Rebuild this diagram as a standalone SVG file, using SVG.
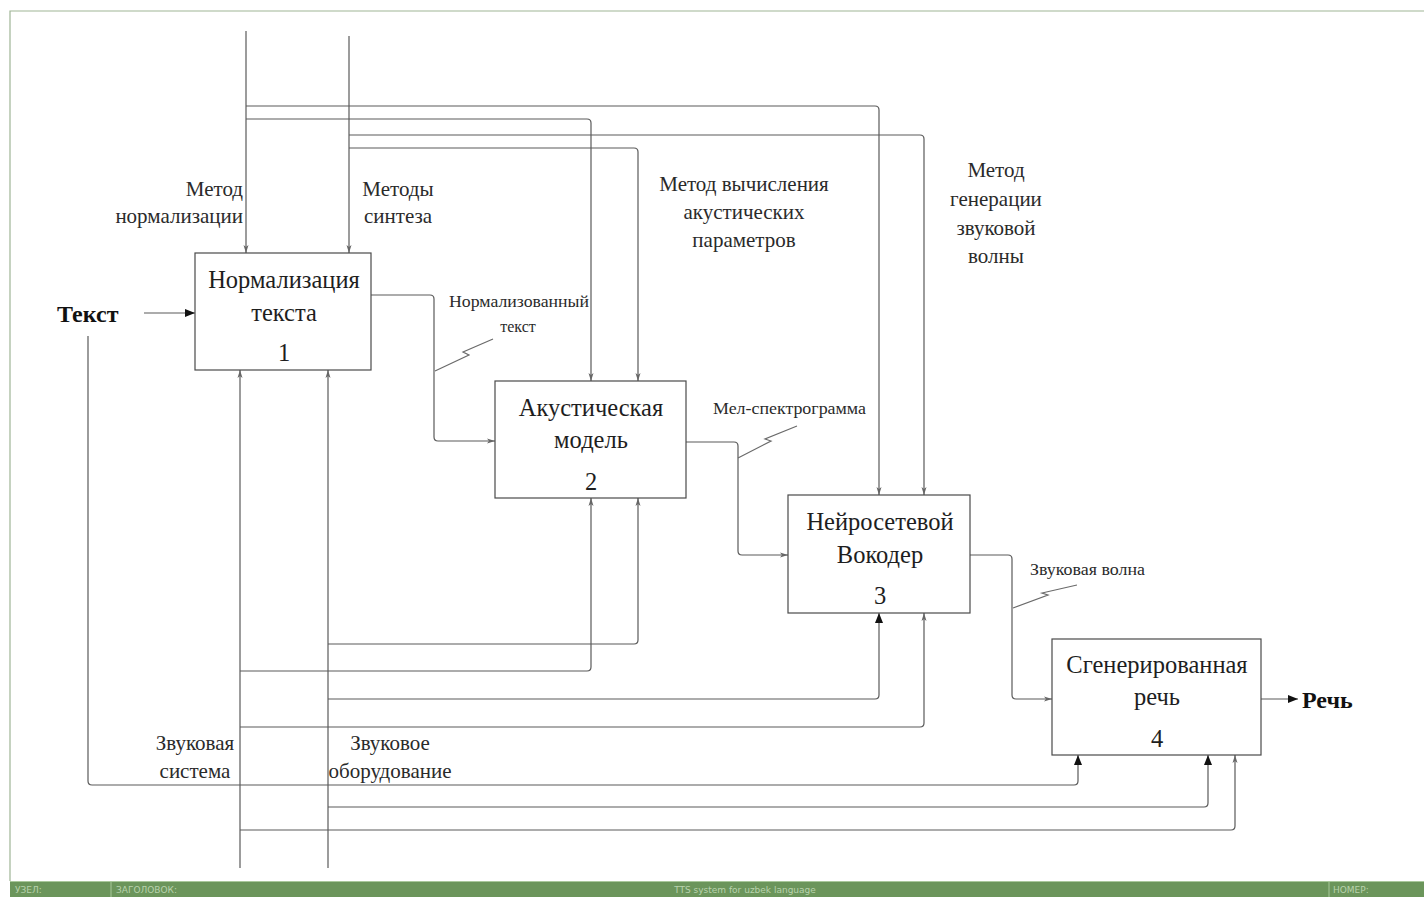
<svg xmlns="http://www.w3.org/2000/svg" width="1424" height="897" viewBox="0 0 1424 897">
  <style>
    .frame { fill: none; stroke: #9fb596; stroke-width: 1.2; }
    .box rect { fill: #ffffff; stroke: #4a4a4a; stroke-width: 1.2; }
    .box text { font-family: "Liberation Serif", "DejaVu Serif", serif; font-size: 24.5px; fill: #1e1e1e; text-anchor: middle; }
    .wire { fill: none; stroke: #5a5a5a; stroke-width: 1.2; }
    .squig { fill: none; stroke: #6a6a6a; stroke-width: 1.2; }
    .lbl { font-family: "Liberation Serif", "DejaVu Serif", serif; font-size: 21px; fill: #2a2a2a; }
    .slbl { font-family: "Liberation Serif", "DejaVu Serif", serif; font-size: 16px; fill: #2a2a2a; }
    .io { font-family: "Liberation Serif", "DejaVu Serif", serif; font-size: 24px; font-weight: bold; fill: #111; }
    .bar text { font-family: "DejaVu Sans", sans-serif; font-size: 9px; fill: #b9d3ad; }
  </style>
  <defs>
    <marker id="solid" viewBox="0 0 10 8" refX="10" refY="4" markerWidth="10" markerHeight="8" markerUnits="userSpaceOnUse" orient="auto">
      <path d="M0,0 L10,4 L0,8 Z" fill="#111"/>
    </marker>
    <marker id="tick" viewBox="0 0 8 6" refX="8" refY="3" markerWidth="8" markerHeight="6" markerUnits="userSpaceOnUse" orient="auto">
      <path d="M0,0.5 L8,3 L0,5.5 L2,3 Z" fill="#666"/>
    </marker>
  </defs>

  <!-- sheet border -->
  <path class="frame" d="M10,881 V11 H1424"/>

  <!-- footer bar -->
  <g class="bar">
    <rect x="10" y="881" width="1414" height="16" fill="#6b955b"/>
    <line x1="10" y1="881.5" x2="1424" y2="881.5" stroke="#a9c89b" stroke-width="1"/>
    <line x1="111" y1="882" x2="111" y2="897" stroke="#a9c89b" stroke-width="1"/>
    <line x1="1329" y1="882" x2="1329" y2="897" stroke="#a9c89b" stroke-width="1"/>
    <text x="15" y="893">УЗЕЛ:</text>
    <text x="116" y="893">ЗАГОЛОВОК:</text>
    <text x="745" y="893" text-anchor="middle">TTS system for uzbek language</text>
    <text x="1333" y="893">НОМЕР:</text>
  </g>

  <!-- connectors -->
  <g id="connectors">
    <!-- controls from the top -->
    <path class="wire" d="M246,31 V253" marker-end="url(#tick)"/>
    <path class="wire" d="M246,106 H875 Q879,106 879,110 V495" marker-end="url(#tick)"/>
    <path class="wire" d="M246,119 H587 Q591,119 591,123 V381" marker-end="url(#tick)"/>
    <path class="wire" d="M349,36 V253" marker-end="url(#tick)"/>
    <path class="wire" d="M349,135 H920 Q924,135 924,139 V495" marker-end="url(#tick)"/>
    <path class="wire" d="M349,148 H634 Q638,148 638,152 V381" marker-end="url(#tick)"/>

    <!-- mechanisms from the bottom -->
    <path class="wire" d="M240,868 V370" marker-end="url(#tick)"/>
    <path class="wire" d="M328,868 V370" marker-end="url(#tick)"/>
    <path class="wire" d="M240,671 H587 Q591,671 591,667 V498" marker-end="url(#tick)"/>
    <path class="wire" d="M328,644 H634 Q638,644 638,640 V498" marker-end="url(#tick)"/>
    <path class="wire" d="M328,699 H875 Q879,699 879,695 V613" marker-end="url(#solid)"/>
    <path class="wire" d="M240,727 H920 Q924,727 924,723 V613" marker-end="url(#tick)"/>
    <path class="wire" d="M88,336 V781 Q88,785 92,785 H1074 Q1078,785 1078,781 V755" marker-end="url(#solid)"/>
    <path class="wire" d="M328,807 H1204 Q1208,807 1208,803 V755" marker-end="url(#solid)"/>
    <path class="wire" d="M240,830 H1231 Q1235,830 1235,826 V755" marker-end="url(#tick)"/>

    <!-- inputs and outputs -->
    <path class="wire" d="M144,313 H195" marker-end="url(#solid)"/>
    <path class="wire" d="M371,295 H430 Q434,295 434,299 V437 Q434,441 438,441 H495" marker-end="url(#tick)"/>
    <path class="wire" d="M686,442 H734 Q738,442 738,446 V551 Q738,555 742,555 H788" marker-end="url(#tick)"/>
    <path class="wire" d="M970,555 H1008 Q1012,555 1012,559 V695 Q1012,699 1016,699 H1052" marker-end="url(#tick)"/>
    <path class="wire" d="M1261,699 H1298" marker-end="url(#solid)"/>

    <!-- label leaders -->
    <path class="squig" d="M435,371 L469,355 L463,352 L493,339"/>
    <path class="squig" d="M738,458 L771,441 L765,439 L797,426"/>
    <path class="squig" d="M1013,608 L1048,595 L1042,593 L1077,585"/>
  </g>

  <!-- activity boxes -->
  <g id="node1" class="box">
    <rect x="195" y="253" width="176" height="117"/>
    <text x="284" y="288">Нормализация</text>
    <text x="284" y="321">текста</text>
    <text x="284" y="361">1</text>
  </g>
  <g id="node2" class="box">
    <rect x="495" y="381" width="191" height="117"/>
    <text x="591" y="416">Акустическая</text>
    <text x="591" y="448">модель</text>
    <text x="591" y="490">2</text>
  </g>
  <g id="node3" class="box">
    <rect x="788" y="495" width="182" height="118"/>
    <text x="880" y="530">Нейросетевой</text>
    <text x="880" y="563">Вокодер</text>
    <text x="880" y="604">3</text>
  </g>
  <g id="node4" class="box">
    <rect x="1052" y="639" width="209" height="116"/>
    <text x="1157" y="673">Сгенерированная</text>
    <text x="1157" y="705">речь</text>
    <text x="1157" y="747">4</text>
  </g>

  <!-- arrow labels -->
  <g id="labels">
    <text class="io" x="57" y="322">Текст</text>
    <text class="io" x="1302" y="708">Речь</text>

    <text class="lbl" x="243" y="196" text-anchor="end">Метод</text>
    <text class="lbl" x="243" y="223" text-anchor="end">нормализации</text>
    <text class="lbl" x="398" y="196" text-anchor="middle">Методы</text>
    <text class="lbl" x="398" y="223" text-anchor="middle">синтеза</text>

    <text class="lbl" x="744" y="191" text-anchor="middle">Метод вычисления</text>
    <text class="lbl" x="744" y="219" text-anchor="middle">акустических</text>
    <text class="lbl" x="744" y="247" text-anchor="middle">параметров</text>

    <text class="lbl" x="996" y="177" text-anchor="middle">Метод</text>
    <text class="lbl" x="996" y="206" text-anchor="middle">генерации</text>
    <text class="lbl" x="996" y="235" text-anchor="middle">звуковой</text>
    <text class="lbl" x="996" y="263" text-anchor="middle">волны</text>

    <text class="lbl" x="195" y="750" text-anchor="middle">Звуковая</text>
    <text class="lbl" x="195" y="778" text-anchor="middle">система</text>
    <text class="lbl" x="390" y="750" text-anchor="middle">Звуковое</text>
    <text class="lbl" x="390" y="778" text-anchor="middle">оборудование</text>

    <text class="slbl" x="449" y="307" textLength="140" lengthAdjust="spacingAndGlyphs">Нормализованный</text>
    <text class="slbl" x="518" y="332" text-anchor="middle">текст</text>
    <text class="slbl" x="713" y="414" textLength="153" lengthAdjust="spacingAndGlyphs">Мел-спектрограмма</text>
    <text class="slbl" x="1030" y="575" textLength="115" lengthAdjust="spacingAndGlyphs">Звуковая волна</text>
  </g>
</svg>
